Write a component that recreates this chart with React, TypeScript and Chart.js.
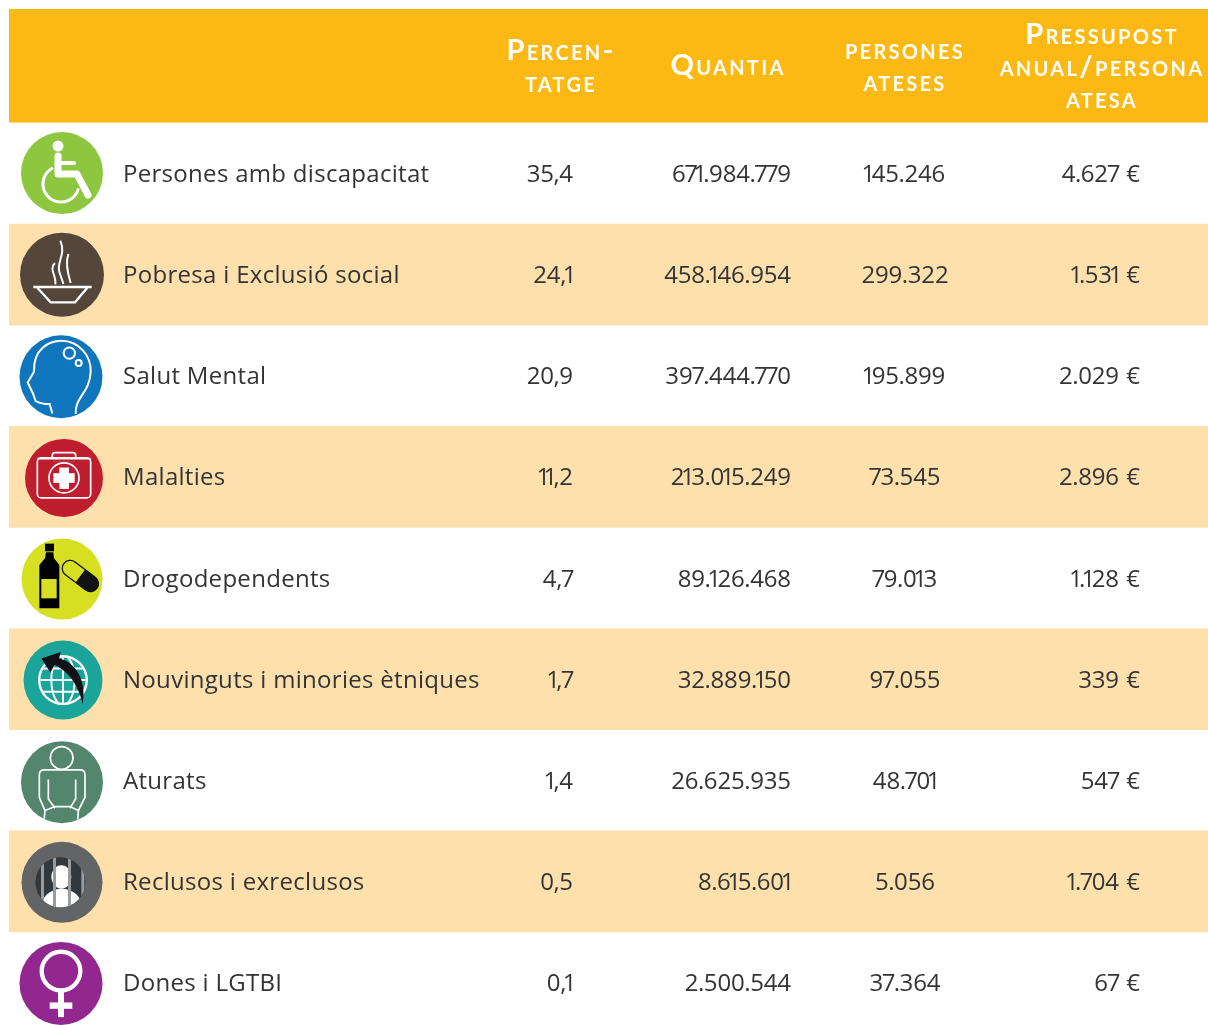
import React, { useEffect, useRef } from "react";
import { Chart, registerables } from "chart.js";

Chart.register(...registerables);

const categories = ["Persones amb discapacitat", "Pobresa i Exclusió social", "Salut Mental", "Malalties", "Drogodependents", "Nouvinguts i minories ètniques", "Aturats", "Reclusos i exreclusos", "Dones i LGTBI"];
const percentatge = ["35,4", "24,1", "20,9", "11,2", "4,7", "1,7", "1,4", "0,5", "0,1"];
const quantia = ["671.984.779", "458.146.954", "397.444.770", "213.015.249", "89.126.468", "32.889.150", "26.625.935", "8.615.601", "2.500.544"];
const persones = ["145.246", "299.322", "195.899", "73.545", "79.013", "97.055", "48.701", "5.056", "37.364"];
const pressupost = ["4.627 €", "1.531 €", "2.029 €", "2.896 €", "1.128 €", "339 €", "547 €", "1.704 €", "67 €"];
const bands = [null, 1208, null, 1208, null, 1208, null, 1208, null];

const headPercent = ["Percen-", "tatge"];
const headQuantia = ["Quantia"];
const headPersones = ["persones", "ateses"];
const headPressupost = ["Pressupost", "anual/persona", "atesa"];

const ORANGE = "#FDB913";
const CREAM = "#FDE0AC";
const INK = "#343436";
const FONT = '"Open Sans"';

type C = CanvasRenderingContext2D;

function disc(c: C, x: number, y: number, r: number, col: string) {
  c.fillStyle = col;
  c.beginPath();
  c.arc(x, y, r, 0, Math.PI * 2);
  c.fill();
}
function poly(c: C, pts: number[], close = false) {
  c.beginPath();
  c.moveTo(pts[0], pts[1]);
  for (let i = 2; i < pts.length; i += 2) c.lineTo(pts[i], pts[i + 1]);
  if (close) c.closePath();
}

const icons: ((c: C) => void)[] = [
  (c) => {
    disc(c, 0, 0, 41, "#8DC63F");
    c.strokeStyle = "#fff";
    disc(c, -4, -27, 5.5, "#fff");
    c.lineCap = "round";
    c.lineJoin = "round";
    c.lineWidth = 7;
    poly(c, [-4, -17, -4, 1, 15, 1, 26, 22]);
    c.stroke();
    c.lineWidth = 4;
    poly(c, [-2, -10, 12, -10]);
    c.stroke();
    c.lineWidth = 3;
    c.beginPath();
    c.arc(-1, 11, 18, Math.PI * 0.1, Math.PI * 1.33);
    c.stroke();
  },
  (c) => {
    disc(c, 0, 0, 42, "#54463B");
    c.save();
    c.scale(1 / 3, 1 / 3);
    c.translate(-186, -147);
    c.strokeStyle = "#fff";
    c.lineWidth = 7;
    poly(c, [100, 184, 275, 184]);
    c.stroke();
    poly(c, [112, 186, 152, 230, 225, 230, 262, 186]);
    c.stroke();
    c.lineWidth = 6;
    c.beginPath();
    c.moveTo(181, 45);
    c.bezierCurveTo(200, 90, 165, 110, 180, 145);
    c.quadraticCurveTo(186, 160, 190, 175);
    c.stroke();
    c.beginPath();
    c.moveTo(205, 85);
    c.bezierCurveTo(195, 115, 205, 150, 212, 172);
    c.stroke();
    c.beginPath();
    c.moveTo(165, 112);
    c.bezierCurveTo(145, 130, 170, 150, 166, 176);
    c.stroke();
    c.restore();
  },
  (c) => {
    disc(c, 0, 0, 41.5, "#0F75BC");
    c.save();
    c.scale(1 / 3, 1 / 3);
    c.translate(-184, -230);
    c.strokeStyle = "#fff";
    c.lineWidth = 6;
    c.beginPath();
    c.moveTo(158, 340);
    c.lineTo(150, 312);
    c.quadraticCurveTo(125, 312, 108, 303);
    c.lineTo(100, 280);
    c.lineTo(84, 247);
    c.lineTo(103, 215);
    c.bezierCurveTo(100, 145, 150, 122, 185, 122);
    c.bezierCurveTo(240, 122, 275, 170, 273, 215);
    c.bezierCurveTo(270, 280, 225, 290, 228, 342);
    c.stroke();
    c.beginPath();
    c.arc(209, 159, 17, 0, Math.PI * 2);
    c.stroke();
    c.beginPath();
    c.arc(237, 189, 9, 0, Math.PI * 2);
    c.stroke();
    c.restore();
  },
  (c) => {
    disc(c, 0, 0, 39, "#BE1E2D");
    c.save();
    c.scale(1 / 3, 1 / 3);
    c.translate(-190, -758);
    c.strokeStyle = "#fff";
    c.lineWidth = 5;
    c.beginPath();
    c.roundRect(110, 698, 160, 120, 12);
    c.stroke();
    c.beginPath();
    c.roundRect(155, 682, 70, 26, 8);
    c.stroke();
    c.fillStyle = "#BE1E2D";
    c.fillRect(150, 700, 80, 10);
    poly(c, [110, 700, 270, 700]);
    c.stroke();
    c.beginPath();
    c.arc(190, 758, 45, 0, Math.PI * 2);
    c.stroke();
    c.fillStyle = "#fff";
    c.fillRect(176, 727, 29, 64);
    c.fillRect(158, 744, 64, 29);
    c.restore();
  },
  (c) => {
    disc(c, 0, 0, 40.5, "#D7DF23");
    c.save();
    c.scale(1 / 3, 1 / 3);
    c.translate(-186, -160);
    c.fillStyle = "#000";
    c.fillRect(135, 54, 27, 23);
    poly(c, [138, 80, 160, 80, 162, 98, 178, 118, 178, 248, 118, 248, 118, 118, 135, 98], true);
    c.fill();
    c.fillStyle = "#D7DF23";
    c.fillRect(124, 160, 46, 58);
    c.translate(241, 151);
    c.rotate((37 * Math.PI) / 180);
    c.strokeStyle = "#111118";
    c.lineWidth = 4;
    c.beginPath();
    c.roundRect(-62, -24, 124, 48, 24);
    c.stroke();
    c.fillStyle = "#111118";
    c.beginPath();
    c.roundRect(-62, -24, 124, 48, 24);
    c.save();
    c.clip();
    c.fillRect(0, -26, 66, 52);
    c.restore();
    c.restore();
  },
  (c) => {
    disc(c, 0, 0, 39.5, "#1BA499");
    c.save();
    c.scale(1 / 3, 1 / 3);
    c.translate(-190, -465);
    disc(c, 190, 465, 75, "#fff");
    c.fillStyle = "#1BA499";
    c.save();
    c.beginPath();
    c.arc(190, 465, 68, 0, Math.PI * 2);
    c.clip();
    c.fillRect(110, 385, 160, 160);
    c.strokeStyle = "#fff";
    c.lineWidth = 6;
    for (const y of [430, 465, 500]) {
      poly(c, [110, y, 270, y]);
      c.stroke();
    }
    c.beginPath();
    c.ellipse(190, 465, 35, 75, 0, 0, Math.PI * 2);
    c.stroke();
    poly(c, [190, 385, 190, 545]);
    c.stroke();
    c.restore();
    c.fillStyle = "#111118";
    c.beginPath();
    c.moveTo(249, 538);
    c.bezierCurveTo(240, 490, 210, 440, 165, 420);
    c.lineTo(152, 442);
    c.lineTo(125, 400);
    c.lineTo(183, 381);
    c.lineTo(178, 400);
    c.bezierCurveTo(225, 410, 262, 460, 249, 538);
    c.closePath();
    c.fill();
    c.restore();
  },
  (c) => {
    disc(c, 0, 0, 41, "#53866C");
    c.save();
    c.scale(1 / 3, 1 / 3);
    c.translate(-186, -770);
    c.beginPath();
    c.arc(186, 770, 122, 0, Math.PI * 2);
    c.clip();
    c.strokeStyle = "#fff";
    c.lineWidth = 5;
    c.beginPath();
    c.arc(185, 697, 34, 0, Math.PI * 2);
    c.stroke();
    c.beginPath();
    c.moveTo(135, 855);
    c.lineTo(118, 815);
    c.lineTo(118, 748);
    c.quadraticCurveTo(118, 733, 133, 733);
    c.lineTo(240, 733);
    c.quadraticCurveTo(255, 733, 255, 748);
    c.lineTo(255, 815);
    c.lineTo(235, 855);
    c.stroke();
    poly(c, [145, 762, 145, 820, 165, 848]);
    c.stroke();
    poly(c, [227, 762, 227, 820, 210, 848]);
    c.stroke();
    poly(c, [132, 885, 135, 855, 165, 843, 210, 843, 235, 855, 233, 885]);
    c.stroke();
    c.restore();
  },
  (c) => {
    disc(c, 0, 0, 40.5, "#636466");
    c.save();
    c.scale(1 / 3, 1 / 3);
    c.translate(-186, -173);
    disc(c, 181, 173, 75, "#33383C");
    c.save();
    c.beginPath();
    c.arc(181, 173, 75, 0, Math.PI * 2);
    c.clip();
    c.fillStyle = "#fff";
    c.beginPath();
    c.ellipse(184, 157, 30, 35, 0, 0, Math.PI * 2);
    c.fill();
    c.beginPath();
    c.ellipse(185, 250, 62, 58, 0, 0, Math.PI * 2);
    c.fill();
    c.fillStyle = "#9A9D9F";
    for (const x of [123, 159, 204, 244]) c.fillRect(x, 90, 9, 170);
    c.restore();
    c.restore();
  },
  (c) => {
    disc(c, 0, 0, 41.5, "#92278F");
    c.save();
    c.scale(1 / 3, 1 / 3);
    c.translate(-184, -472);
    c.strokeStyle = "#fff";
    c.lineWidth = 13;
    c.beginPath();
    c.arc(184, 435, 58, 0, Math.PI * 2);
    c.stroke();
    c.fillStyle = "#fff";
    c.fillRect(175, 495, 18, 78);
    c.fillRect(150, 529, 68, 19);
    c.restore();
  },
];

const iconX = [62, 62, 61, 64, 62, 63, 62, 62, 61];
const iconDy = [-0.5, 0, 1, 1, 1, 1, 2, 1, 1];

// Width given to each glyph of a figure: the reference's digits are proportional.
const advance = (ch: string) => {
  if (ch === "1") return 7;
  if (ch === "7") return 11;
  if (ch === "." || ch === ",") return 5.5;
  if (ch === " ") return 7;
  if (ch === "€") return 14;
  return 13.6;
};
const figureWidth = (t: string) => [...t].reduce((s, ch) => s + advance(ch), 0);
function drawFigure(c: C, t: string, x: number, y: number, align: "right" | "center") {
  const w = figureWidth(t);
  let p = align === "right" ? x - w : x - w / 2;
  c.textAlign = "center";
  for (const ch of t) {
    const a = advance(ch);
    c.fillText(ch, p + a / 2, y);
    p += a;
  }
}

const tablePlugin = {
  id: "table",
  beforeDatasetsDraw(chart: any) {
    const c: C = chart.ctx;
    c.save();
    c.fillStyle = ORANGE;
    c.fillRect(9, 9, 1199, 113.5);
    c.restore();
  },
  afterDatasetsDraw(chart: any) {
    const c: C = chart.ctx;
    const ys = chart.scales.y;
    c.save();
    c.textBaseline = "alphabetic";

    const head = (lines: string[], x: number, y0: number) => {
      c.textAlign = "center";
      c.fillStyle = "#fff";
      c.font = `small-caps 700 29px Lato`;
      (c as any).letterSpacing = "2.3px";
      lines.forEach((t, i) => c.fillText(t, x, y0 + i * 32));
    };
    head(headPercent, 561, 59.5);
    head(headQuantia, 728, 75);
    head(headPersones, 905, 59);
    head(headPressupost, 1102, 43.5);

    categories.forEach((name, i) => {
      const y = ys.getPixelForValue(i);
      const base = y + 8.5;
      c.fillStyle = INK;
      c.textAlign = "left";
      c.font = `400 24px ${FONT}`;
      (c as any).letterSpacing = "0.3px";
      c.fillText(name, 123, base);
      (c as any).letterSpacing = "0px";
      drawFigure(c, percentatge[i], 573, base, "right");
      drawFigure(c, quantia[i], 791, base, "right");
      drawFigure(c, persones[i], 905, base, "center");
      drawFigure(c, pressupost[i], 1140, base, "right");

      c.save();
      c.translate(iconX[i], y + iconDy[i]);
      icons[i](c);
      c.restore();
    });
    c.restore();
  },
};

export default function App() {
  const ref = useRef<HTMLCanvasElement>(null);
  useEffect(() => {
    document.documentElement.style.overflow = "hidden";
    const chart = new Chart(ref.current!, {
      type: "bar",
      data: {
        labels: categories,
        datasets: [
          {
            data: bands as any,
            backgroundColor: CREAM,
            borderWidth: 0,
            barPercentage: 1,
            categoryPercentage: 1,
          },
        ],
      },
      options: {
        indexAxis: "y",
        responsive: false,
        animation: false,
        layout: { padding: { left: 9, right: 0, top: 123, bottom: 0 } },
        plugins: { legend: { display: false }, tooltip: { enabled: false }, title: { display: false } },
        scales: {
          x: { type: "linear", min: 9, max: 1208, display: false },
          y: { type: "category", display: false },
        },
      },
      plugins: [tablePlugin],
    });
    return () => chart.destroy();
  }, []);
  return (
    <div style={{ position: "absolute", left: 0, top: 0, width: 1208, height: 1025, overflow: "hidden", background: "#fff" }}>
      <canvas ref={ref} width={1208} height={1033} style={{ display: "block" }} />
    </div>
  );
}
